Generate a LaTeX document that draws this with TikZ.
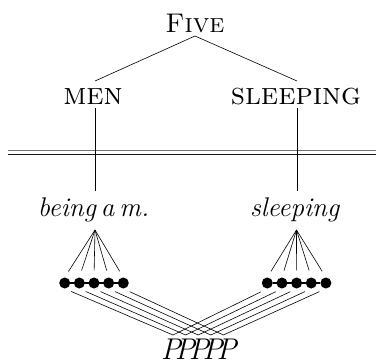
\documentclass[tikz,border=0pt]{standalone}
\begin{document}
\begin{tikzpicture}[x=1pt,y=-1pt,
  lbl/.style={inner sep=0pt,font=\fontsize{27}{32}\selectfont},
  sclbl/.style={inner sep=0pt,font=\fontsize{31}{36}\selectfont},
  ln/.style={line width=0.6pt},
  dotnode/.style={circle,fill=black,inner sep=0pt,minimum size=11pt},
]
\useasboundingbox (0,0) rectangle (376,364);
% top tree
\node[lbl,anchor=base] (five) at (195,32) {\textsc{Five}};
\node[sclbl,anchor=base] (men) at (93,104) {\textsc{men}};
\node[sclbl,anchor=base] (slp) at (296,104) {\textsc{sleeping}};
\coordinate (fiveb) at (195,36);
\coordinate (ment) at (95,81);
\coordinate (slpt) at (297,81);
\draw[ln] (fiveb) -- (ment);
\draw[ln] (fiveb) -- (slpt);
% double line
\draw[line width=0.7pt,black!55] (8,150) -- (376,150);
\draw[line width=0.7pt,black!90] (8,154.5) -- (376,154.5);
% lower
\node[lbl,anchor=base] (being) at (93.5,216) {\textit{being\hspace{5pt}a\hspace{5pt}m.}};
\node[lbl,anchor=base] (sleep) at (295,216) {\textit{sleeping}};
\coordinate (menb) at (95,108);
\coordinate (beingt) at (95,191);
\coordinate (slpb) at (297,108);
\coordinate (sleept) at (297,191);
\draw[ln] (menb) -- (beingt);
\draw[ln] (slpb) -- (sleept);
\coordinate (lapex) at (95,230);
\coordinate (rapex) at (296.5,230);
\foreach \i in {1,...,5}{
  \node[dotnode] (l\i) at ({64.7+14.65*(\i-1)},283) {};
  \node[dotnode] (r\i) at ({267.3+14.65*(\i-1)},283) {};
  \coordinate (p\i) at ({173+12.6*(\i-1)},335);
}
\draw[line width=1.2pt] (l1) -- (l5);
\draw[line width=1.2pt] (r1) -- (r5);
\foreach \i in {1,...,5}{
  \draw[ln,shorten >=7pt] (lapex) -- (l\i.north);
  \draw[ln,shorten >=7pt] (rapex) -- (r\i.north);
  \draw[ln,shorten <=7pt] (l\i.south) -- (p\i);
  \draw[ln,shorten <=7pt] (r\i.south) -- (p\i);
}
\node[lbl,anchor=base,font=\fontsize{30}{34}\selectfont] (ppp) at (199.5,359.5) {\textit{P\kern-6ptP\kern-6ptP\kern-6ptP\kern-6ptP}};
\end{tikzpicture}
\end{document}
